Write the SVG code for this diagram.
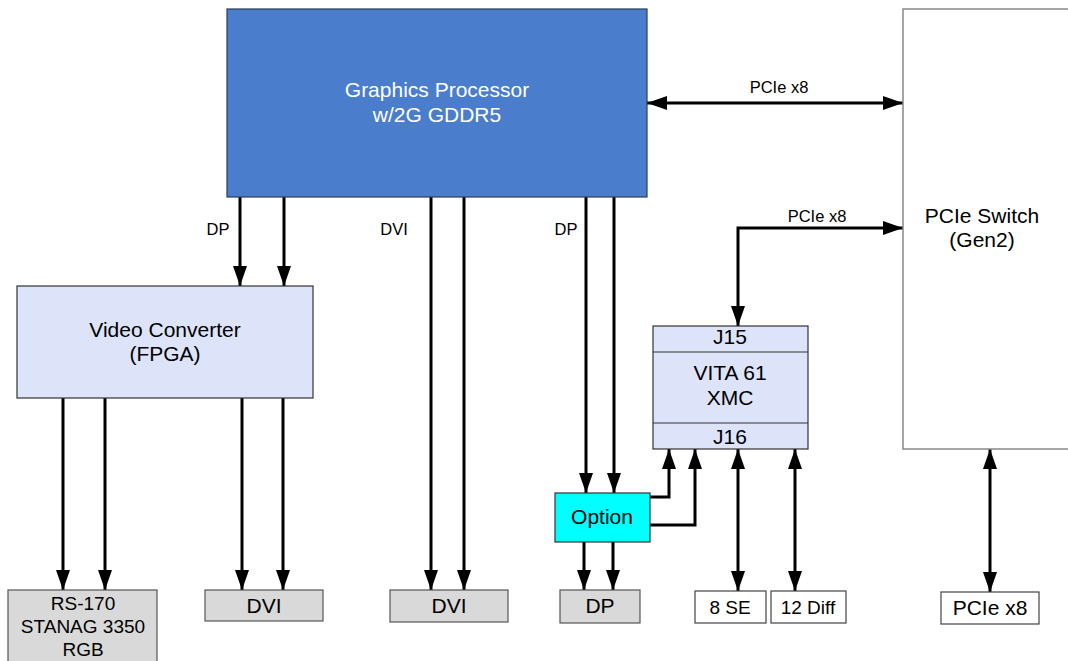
<svg xmlns="http://www.w3.org/2000/svg" width="1068" height="661" viewBox="0 0 1068 661">
<defs>
<marker id="ah" markerUnits="userSpaceOnUse" markerWidth="20" markerHeight="14" refX="20" refY="7" orient="auto-start-reverse" viewBox="0 0 20 14">
<path d="M0,0 L20,7 L0,14 z" fill="#000"/>
</marker>
<style>
.t{font-family:"Liberation Sans",Arial,sans-serif;fill:#000;text-anchor:middle}
.big{font-size:21px}
.md{font-size:19px}
.sm{font-size:16.5px}
.w{fill:#fff}
.ln{fill:none;stroke:#000;stroke-width:3}
.a{marker-end:url(#ah)}
.b{marker-start:url(#ah);marker-end:url(#ah)}
.gray{fill:#d9d9d9;stroke:#555;stroke-width:1.2}
.white{fill:#fff;stroke:#444;stroke-width:1.2}
.lb{fill:#dde4fa;stroke:#333;stroke-width:1.2}
</style>
</defs>
<rect width="1068" height="661" fill="#fff"/>

<g id="connectors">
<path class="ln b" d="M647,103 H903"/>
<path class="ln b" d="M738,326 V228 H903"/>
<path class="ln a" d="M240,197 V286"/>
<path class="ln a" d="M284,197 V286"/>
<path class="ln a" d="M431,197 V590"/>
<path class="ln a" d="M464,197 V590"/>
<path class="ln a" d="M586,197 V493"/>
<path class="ln a" d="M614,197 V493"/>
<path class="ln a" d="M63,398 V590"/>
<path class="ln a" d="M105,398 V590"/>
<path class="ln a" d="M242,398 V590"/>
<path class="ln a" d="M283,398 V590"/>
<path class="ln a" d="M584,542 V590"/>
<path class="ln a" d="M613,542 V590"/>
<path class="ln a" d="M650,497 H669 V449"/>
<path class="ln a" d="M650,525 H695 V449"/>
<path class="ln b" d="M738,449 V591"/>
<path class="ln b" d="M795,449 V591"/>
<path class="ln b" d="M990,449 V592"/>
<text class="t sm" x="779" y="93">PCIe x8</text>
<text class="t sm" x="817" y="222">PCIe x8</text>
<text class="t sm" x="218" y="235">DP</text>
<text class="t sm" x="394" y="235">DVI</text>
<text class="t sm" x="566" y="235">DP</text>
</g>

<g id="gpu">
<rect x="227" y="9" width="420" height="188" fill="#4a7dcb" stroke="#2a3d5c" stroke-width="1.2"/>
<text class="t big w" x="437" y="97">Graphics Processor</text>
<text class="t big w" x="437" y="122">w/2G GDDR5</text>
</g>

<g id="pcie-switch">
<rect x="903" y="9" width="170" height="440" fill="#fff" stroke="#888" stroke-width="1.5"/>
<text class="t big" x="982" y="223">PCIe Switch</text>
<text class="t big" x="982" y="247">(Gen2)</text>
</g>

<g id="video-converter">
<rect x="17" y="286" width="296" height="112" class="lb"/>
<text class="t big" x="165" y="337">Video Converter</text>
<text class="t big" x="165" y="361">(FPGA)</text>
</g>

<g id="vita">
<rect x="653" y="326" width="155" height="123" class="lb"/>
<line x1="653" y1="352" x2="808" y2="352" stroke="#333" stroke-width="1.2"/>
<line x1="653" y1="423" x2="808" y2="423" stroke="#333" stroke-width="1.2"/>
<text class="t big" x="730" y="344">J15</text>
<text class="t big" x="730" y="380">VITA 61</text>
<text class="t big" x="730" y="405">XMC</text>
<text class="t big" x="730" y="444">J16</text>
</g>

<g id="option">
<rect x="555" y="493" width="95" height="49" fill="#00ffff" stroke="#333" stroke-width="1.2"/>
<text class="t big" x="602" y="524">Option</text>
</g>

<g id="rs170">
<rect x="8" y="590" width="149" height="80" class="gray"/>
<text class="t md" x="83" y="610">RS-170</text>
<text class="t md" x="83" y="633">STANAG 3350</text>
<text class="t md" x="83" y="656">RGB</text>
</g>

<g id="dvi1">
<rect x="205" y="590" width="118" height="31" class="gray"/>
<text class="t big" x="264" y="613">DVI</text>
</g>

<g id="dvi2">
<rect x="390" y="590" width="118" height="32" class="gray"/>
<text class="t big" x="449" y="613">DVI</text>
</g>

<g id="dp">
<rect x="560" y="590" width="80" height="33" class="gray"/>
<text class="t big" x="600" y="613">DP</text>
</g>

<g id="se8">
<rect x="695" y="591" width="71" height="32" class="white"/>
<text class="t md" x="730" y="614">8 SE</text>
</g>

<g id="diff12">
<rect x="771" y="591" width="75" height="32" class="white"/>
<text class="t md" x="808" y="614">12 Diff</text>
</g>

<g id="pcie-x8">
<rect x="941" y="592" width="98" height="32" class="white"/>
<text class="t big" x="990" y="615">PCIe x8</text>
</g>
</svg>
